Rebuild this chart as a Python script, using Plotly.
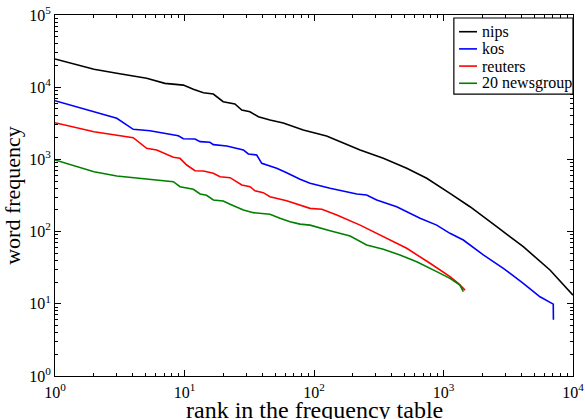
import plotly.graph_objects as go

# ---- data (rank, word frequency) ----
nips_rank = [1, 2, 3, 5.1, 7.06, 9.8, 11.7, 14.0, 16.7, 19.9, 24.5, 27.7, 32, 37.2, 45.7,
             57.9, 82.6, 125, 227, 343, 520, 742, 1122, 1602, 2575, 4130, 6640, 10000]
nips_freq = [24600, 17700, 15600, 13300, 11300, 10700, 9350, 8390, 8050, 6300, 5850, 4830,
             4580, 3900, 3510, 3190, 2550, 2110, 1350, 1035, 753, 548, 339, 221, 117, 61.8,
             29.4, 13.2]

kos_rank = [1, 3, 4.02, 5.41, 8.96, 9.8, 12.05, 13.2, 15.7, 16.7, 21.2, 28.5, 31.1, 36.1,
            39.5, 51.5, 61.5, 78, 93.2, 133, 214, 255, 305, 435, 659, 886, 1122, 1422, 2030,
            2898, 4130, 5560, 7040, 7060]
kos_freq = [6500, 3710, 2610, 2500, 2130, 1935, 1920, 1760, 1725, 1600, 1535, 1350, 1190,
            1150, 883, 753, 655, 530, 467, 398, 332, 321, 274, 221, 153, 123, 94.6, 76.5,
            47.5, 31, 19.2, 12.5, 9.9, 6]

reuters_rank = [1, 2, 4.02, 5.1, 6.1, 8.2, 9.23, 10.4, 12.05, 14.0, 16.7, 18.8, 22.5, 27.7,
                32.1, 35.0, 40.6, 45.7, 61.5, 93.2, 115, 150, 227, 343, 520, 787, 1122, 1300,
                1466]
reuters_freq = [3220, 2420, 2000, 1425, 1350, 1070, 1035, 836, 697, 690, 642, 576, 558, 442,
                419, 368, 346, 304, 268, 210, 204, 170, 123, 85, 58.7, 36.4, 23.8, 19.2, 15.5]

news_rank = [1, 2, 3, 5.41, 7.29, 8.2, 9.23, 11.7, 13.2, 14.8, 16.7, 19.9, 22.5, 28.5, 34,
             40.6, 45.7, 54.6, 65.3, 78, 93.2, 133, 190, 255, 343, 461, 621, 886, 1122, 1340,
             1422]
news_freq = [981, 676, 589, 535, 502, 491, 419, 385, 332, 318, 274, 265, 239, 199, 183, 175,
             174, 153, 137, 127, 123, 103, 86.8, 65.2, 56.9, 47.5, 38.3, 27.9, 22.5, 18.2, 14.7]

series_names = ["nips", "kos", "reuters", "20 newsgroup"]
series_colors = ["#000000", "#0000ff", "#ff0000", "#008000"]

x_tickvals = [1, 10, 100, 1000, 10000]
x_ticktext = ["10<sup>0</sup>", "10<sup>1</sup>", "10<sup>2</sup>", "10<sup>3</sup>", "10<sup>4</sup>"]
y_tickvals = [1, 10, 100, 1000, 10000, 100000]
y_ticktext = ["10<sup>0</sup>", "10<sup>1</sup>", "10<sup>2</sup>", "10<sup>3</sup>",
              "10<sup>4</sup>", "10<sup>5</sup>"]

FONT = "Liberation Serif, Times New Roman, serif"

fig = go.Figure()
for name, color, xs, ys in zip(series_names, series_colors,
                               [nips_rank, kos_rank, reuters_rank, news_rank],
                               [nips_freq, kos_freq, reuters_freq, news_freq]):
    fig.add_trace(go.Scatter(x=xs, y=ys, mode="lines", name=name, showlegend=False,
                             line=dict(color=color, width=1.6)))

axis_common = dict(
    type="log", showgrid=False, zeroline=False, automargin=False,
    showline=True, linecolor="black", linewidth=1, mirror="ticks",
    ticks="inside", ticklen=6, tickcolor="black", tickwidth=1,
    minor=dict(dtick="D1", ticks="inside", ticklen=3, tickcolor="black", tickwidth=1,
               showgrid=False),
    tickfont=dict(family=FONT, size=16, color="black"),
)

fig.update_xaxes(**axis_common, range=[0, 4], tickvals=x_tickvals, ticktext=x_ticktext,
                 ticklabelstandoff=2)
fig.update_yaxes(**axis_common, range=[0, 5], tickvals=y_tickvals, ticktext=y_ticktext,
                 title=dict(text="word frequency",
                            font=dict(family=FONT, size=22, color="black"), standoff=4))

# ---- legend box (drawn in paper coordinates, top-right inside the axes) ----
LEG_X0, LEG_X1 = 0.770, 1.0
LEG_TOP, LEG_BOTTOM = 0.9917, 0.781
LINE_X0, LINE_X1, TEXT_X = 0.780, 0.8147, 0.8195
ROW_Y0, ROW_STEP = 0.9537, 0.0476

shapes = [dict(type="rect", xref="paper", yref="paper", x0=LEG_X0, x1=LEG_X1,
               y0=LEG_BOTTOM, y1=LEG_TOP, line=dict(color="black", width=1.2),
               fillcolor="white", layer="above")]
annotations = []
for i, (name, color) in enumerate(zip(series_names, series_colors)):
    yy = ROW_Y0 - i * ROW_STEP
    shapes.append(dict(type="line", xref="paper", yref="paper", x0=LINE_X0, x1=LINE_X1,
                       y0=yy, y1=yy, line=dict(color=color, width=1.6), layer="above"))
    annotations.append(dict(xref="paper", yref="paper", x=TEXT_X, y=yy, text=name,
                            showarrow=False, xanchor="left", yanchor="middle",
                            font=dict(family=FONT, size=16, color="black")))

# x-axis title, placed just below the tick labels (as in the reference, near the bottom edge)
annotations.append(dict(xref="paper", yref="paper", x=0.5, y=-0.052, yanchor="top",
                        xanchor="center", showarrow=False, text="rank in the frequency table",
                        font=dict(family=FONT, size=24, color="black")))

fig.update_layout(
    width=585, height=419,
    margin=dict(l=55, r=12, t=15, b=43),
    paper_bgcolor="white", plot_bgcolor="white",
    font=dict(family=FONT, color="black"),
    shapes=shapes, annotations=annotations,
    showlegend=False,
)

fig.write_html("out.html", config={"displayModeBar": False},
               post_script="document.body.style.margin='0';document.body.style.padding='0';")
